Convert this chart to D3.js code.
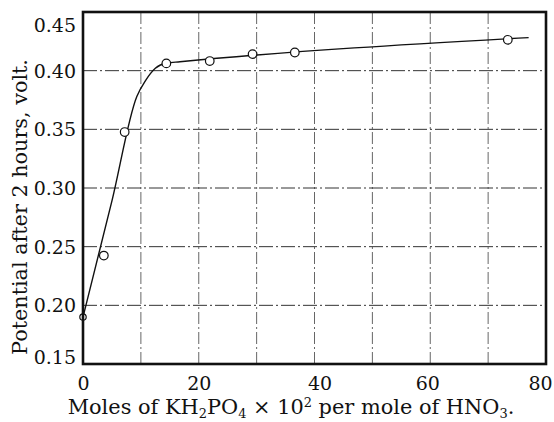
<!DOCTYPE html>
<html><head><meta charset="utf-8">
<script src="https://cdn.jsdelivr.net/npm/d3@7"></script>
<style>
body{margin:0;background:#fff;}
text{font-family:"DejaVu Serif","Liberation Serif",serif;fill:#111;}
</style></head>
<body><svg id="c" width="554" height="422"></svg>
<script>
// Data
const pointX = [0, 3.6, 7.2, 14.4, 21.9, 29.3, 36.6, 73.4];
const pointY = [0.190, 0.2424, 0.3477, 0.4062, 0.4082, 0.4141, 0.4155, 0.4263];
const curveX = [0, 5.0, 9.3, 10.8, 12.5, 14.45, 16.75, 77.0];
const curveY = [0.190, 0.289, 0.378, 0.3915, 0.4020, 0.4065, 0.4076, 0.4282];
const xTicks = [0, 20, 40, 60, 80];
const xGrid = [10, 20, 30, 40, 50, 60, 70];
const yTicks = [0.15, 0.20, 0.25, 0.30, 0.35, 0.40, 0.45];
const yGrid = [0.20, 0.25, 0.30, 0.35, 0.40];

const svg = d3.select("#c");
const L = 83, R = 546, T = 12, B = 364;
const x = d3.scaleLinear().domain([0, 80]).range([L, R]);
const y = d3.scaleLinear().domain([0.15, 0.45]).range([B, T]);

// grid
const g = svg.append("g");
g.selectAll("line.v").data(xGrid).join("line")
  .attr("x1", d => x(d)).attr("x2", d => x(d)).attr("y1", T).attr("y2", B)
  .attr("stroke", "#666").attr("stroke-width", 1).attr("stroke-dasharray", "12,3,2,3");
g.selectAll("line.h").data(yGrid).join("line")
  .attr("y1", d => y(d)).attr("y2", d => y(d)).attr("x1", L).attr("x2", R)
  .attr("stroke", "#333").attr("stroke-width", 1).attr("stroke-dasharray", "14,3,2,3");

// curve
const pts = curveX.map((v, i) => [v, curveY[i]]);
svg.append("path").datum(pts)
  .attr("d", d3.line().x(d => x(d[0])).y(d => y(d[1])).curve(d3.curveMonotoneX))
  .attr("fill", "none").attr("stroke", "#111").attr("stroke-width", 1.4);

// points
svg.selectAll("circle").data(pointX.map((v, i) => [v, pointY[i]])).join("circle")
  .attr("cx", d => x(d[0])).attr("cy", d => y(d[1])).attr("r", (d, i) => i === 0 ? 3.2 : 4.3)
  .attr("fill", "#fff").attr("stroke", "#111").attr("stroke-width", 1.2);

// frame
svg.append("rect").attr("x", L).attr("y", T).attr("width", R - L).attr("height", B - T)
  .attr("fill", "none").attr("stroke", "#111").attr("stroke-width", 2.6);

// axes
const xa = svg.append("g").attr("transform", `translate(0,${B})`)
  .call(d3.axisBottom(x).tickValues(xTicks).tickSize(0).tickPadding(13).tickFormat(d3.format("d")));
xa.select(".domain").remove();
xa.selectAll("text").attr("font-size", 19).style("font-family", '"DejaVu Serif",serif').attr("fill", "#111")
  .attr("dx", d => d === 80 ? -6 : d === 40 ? 5 : d === 60 ? -3 : 0);

const ya = svg.append("g").attr("transform", `translate(${L},0)`)
  .call(d3.axisLeft(y).tickValues(yTicks).tickSize(0).tickPadding(7).tickFormat(d3.format(".2f")));
ya.select(".domain").remove();
ya.selectAll("text").attr("font-size", 19).style("font-family", '"DejaVu Serif",serif').attr("fill", "#111")
  .attr("dy", d => d === 0.45 ? "1.0em" : d === 0.15 ? "-0.05em" : "0.35em");

// labels
function fit(sel, target, base) {
  const w = sel.node().getComputedTextLength();
  const s = base * target / w;
  sel.attr("font-size", s);
  sel.selectAll("tspan.sm").attr("font-size", s * 0.62);
  return s;
}
const xl = svg.append("text").attr("x", 291).attr("y", 414).attr("text-anchor", "middle").attr("font-size", 17);
const parts = [["Moles of KH",0,0],["2",1,4],["PO",0,-4],["4",1,4],[" × 10",0,-4],["2",1,-7],[" per mole of HNO",0,7],["3",1,4],[".",0,-4]];
parts.forEach(p => {
  const t = xl.append("tspan").text(p[0]).attr("dy", p[2]);
  if (p[1]) t.attr("class", "sm").attr("font-size", 17 * 0.62);
});
fit(xl, 447, 17);

const yl = svg.append("text").attr("transform", "translate(27,207) rotate(-90)")
  .attr("text-anchor", "middle").attr("font-size", 17)
  .text("Potential after 2 hours, volt.");
fit(yl, 296, 17);
</script></body></html>
